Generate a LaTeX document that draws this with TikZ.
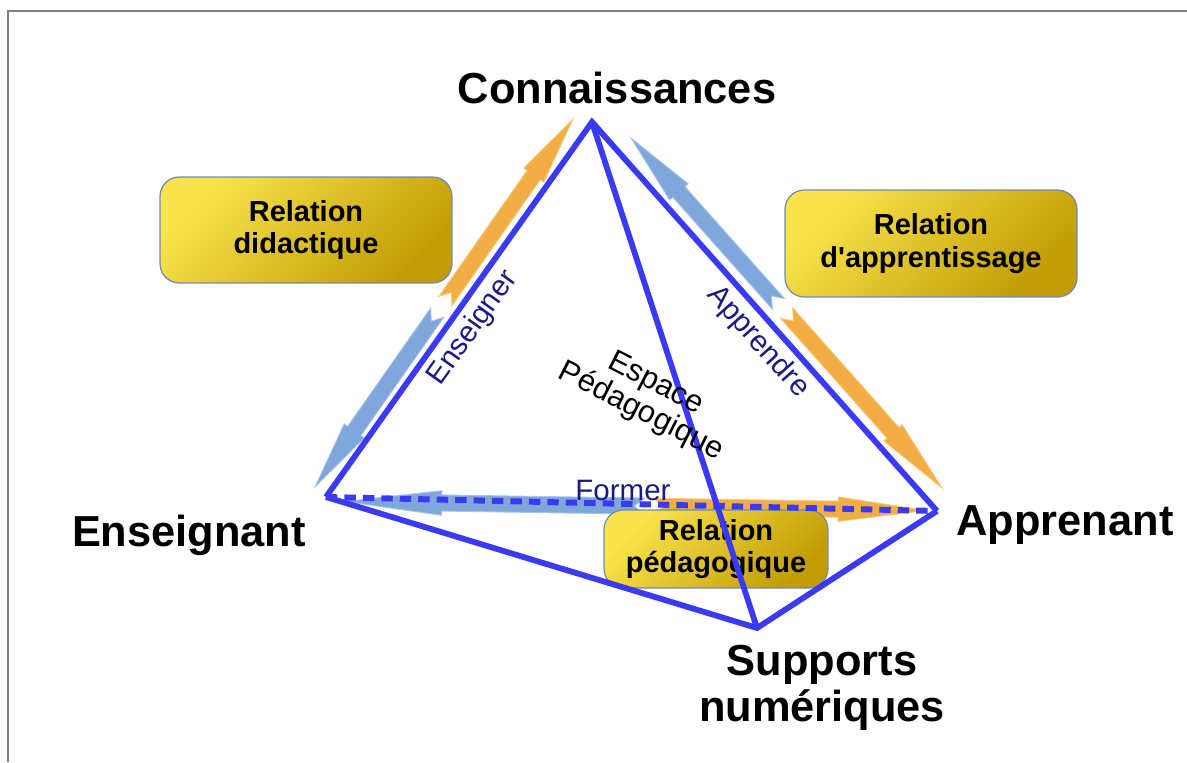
\documentclass[tikz,border=0pt]{standalone}
\usepackage{fontspec}
\setmainfont{Liberation Sans}
\usetikzlibrary{calc}
\definecolor{edgeblue}{HTML}{3A3AF4}
\definecolor{navy}{HTML}{1A1A80}
\definecolor{goldA}{HTML}{F9E44C}
\definecolor{goldB}{HTML}{C29C05}
\definecolor{boxedge}{HTML}{6E8CAE}
\definecolor{arrblue}{HTML}{80A7DC}
\definecolor{arrblueedge}{HTML}{A9C4EA}
\definecolor{arrorange}{HTML}{F2AD45}
\definecolor{arrorangeedge}{HTML}{F7CB7E}
\definecolor{framegray}{HTML}{808080}
\newcommand\halfarrow[4]{%
  \coordinate (ht) at (#1);
  \coordinate (hp) at (#2);
  \coordinate (hb) at ($(hp)!#4!(ht)$);
  \coordinate (hn) at ($(ht)!6pt!(hp)$);
  \filldraw[#3] ($(ht)!4.6pt!90:(hp)$) -- ($(hb)!4.6pt!90:(hp)$) -- ($(hb)!7pt!90:(hp)$) -- (hp)
     -- ($(hb)!7pt!-90:(hp)$) -- ($(hb)!4.6pt!-90:(hp)$) -- ($(ht)!4.6pt!-90:(hp)$) -- (hn) -- cycle;
}
\begin{document}
\begin{tikzpicture}[x=0.02cm,y=-0.02cm,
  tri/.style={draw=edgeblue, line width=3.3pt, line join=miter},
  dashline/.style={draw=edgeblue, line width=3.4pt, dash pattern=on 6.5pt off 4pt},
  relbox/.style={rounded corners=11pt, draw=boxedge, line width=0.7pt,
     top color=goldA, bottom color=goldB, shading angle=45,
     align=center, inner sep=0pt, font=\bfseries\fontsize{16.5}{18.5}\selectfont},
  big/.style={font=\bfseries\fontsize{24.7}{26.1}\selectfont, inner sep=0pt, align=center},
  verb/.style={text=navy, font=\fontsize{16.8}{19}\selectfont, inner sep=0pt},
  bluearr/.style={fill=arrblue, draw=arrblueedge, line width=0.5pt},
  orangearr/.style={fill=arrorange, draw=arrorangeedge, line width=0.5pt}]
\useasboundingbox (0,0) rectangle (1187,762);
% frame
\coordinate (f1) at (8,762);
\coordinate (f2) at (8,11);
\coordinate (f3) at (1187,11);
\draw[framegray, line width=1.1pt] (f1) -- (f2) -- (f3);
% vertices
\coordinate (C) at (592,122);
\coordinate (E) at (326,497);
\coordinate (A) at (937,511);
\coordinate (S) at (757,628);
% arrow end points
\coordinate (lbt) at (315,487);
\coordinate (lot) at (573,119);
\coordinate (lbn) at ($(lbt)!0.474!(lot)$);
\coordinate (lon) at ($(lbt)!0.505!(lot)$);
\coordinate (rbt) at (631,138);
\coordinate (rot) at (942,488);
\coordinate (rbn) at ($(rbt)!0.474!(rot)$);
\coordinate (ron) at ($(rbt)!0.500!(rot)$);
\coordinate (bbt) at (345,501.5);
\coordinate (bot) at (926,510.5);
\coordinate (bbn) at ($(bbt)!0.516!(bot)$);
\coordinate (bon) at ($(bbt)!0.530!(bot)$);
% arrows
\halfarrow{lbn}{lbt}{bluearr}{39pt}
\halfarrow{lon}{lot}{orangearr}{39pt}
\halfarrow{rbn}{rbt}{bluearr}{41pt}
\halfarrow{ron}{rot}{orangearr}{42pt}
\halfarrow{bbn}{bbt}{bluearr}{55pt}
\halfarrow{bon}{bot}{orangearr}{50pt}
% boxes
\node[relbox, minimum width=5.84cm, minimum height=2.12cm] (rd) at (306,230) {Relation\\didactique};
\node[relbox, minimum width=5.84cm, minimum height=2.14cm] (ra) at (931,243.5) {Relation\\d\textquotesingle apprentissage};
\node[relbox, minimum width=4.48cm, minimum height=1.56cm] (rp) at (716,549) {Relation\\pédagogique};
% triangle edges
\draw[dashline] (E) -- (A);
\draw[tri] (E) -- (C) -- (A);
\draw[tri] (E) -- (S) -- (A);
\draw[tri] (C) -- (S);
% labels
\node[big, anchor=base] (conn) at (617,103) {Connaissances};
\node[big, anchor=base] (ens) at (189,546) {Enseignant};
\node[big, anchor=base] (app) at (1065,535) {Apprenant};
\node[big] (sup) at (822,688) {Supports\\numériques};
\node[verb, rotate=54.6] (enseigner) at (473,328) {Enseigner};
\node[verb, rotate=-48.4] (apprendre) at (758,342) {Apprendre};
\node[verb] (former) at (623,490) {Former};
\node[align=center, inner sep=0pt, rotate=-27, font=\fontsize{17.5}{18}\selectfont] (espace) at (648,398) {Espace\\Pédagogique};
\end{tikzpicture}
\end{document}
